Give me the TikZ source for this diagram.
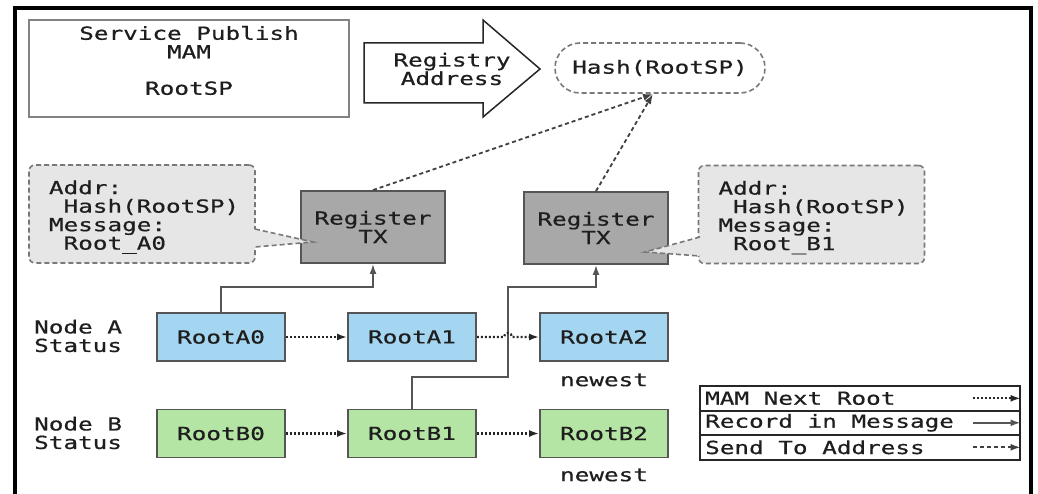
\documentclass[tikz,border=0pt]{standalone}
\usepackage{fontspec}
\setmainfont[FakeStretch=1.35, FakeBold=0.6]{DejaVu Sans Mono}
\usetikzlibrary{arrows.meta}
\definecolor{boxline}{RGB}{85,85,85}
\definecolor{spline}{RGB}{130,130,130}
\definecolor{txt}{RGB}{30,30,30}
\definecolor{rootblue}{RGB}{164,214,241}
\definecolor{rootgreen}{RGB}{180,229,164}
\definecolor{regfill}{RGB}{168,168,168}
\definecolor{notefill}{RGB}{230,230,230}
\definecolor{noteline}{RGB}{120,120,120}
\newcommand\dfont{\fontsize{18}{18.5}\selectfont}
\newcommand\ind{\phantom{A}}
\newcommand\toprule{\rule{0pt}{20pt}}
\tikzset{
  every node/.style={font=\dfont, text=txt, inner sep=0pt},
  rootbox/.style={draw=boxline, line width=1.8pt, minimum width=128pt, minimum height=48pt},
  abox/.style={rootbox, fill=rootblue},
  bbox/.style={rootbox, fill=rootgreen},
  regbox/.style={draw=boxline, line width=1.8pt, fill=regfill, minimum width=144pt,
    minimum height=72pt, align=center},
  notebox/.style={draw=noteline, fill=notefill, line width=1.6pt, dash pattern=on 5pt off 3pt,
    rounded corners=6pt, align=left, text width=186pt, minimum width=226pt, minimum height=98pt},
  noteedge/.style={draw=noteline, line width=1.6pt, dash pattern=on 5pt off 3pt},
  tipS/.style={-{Latex[length=10pt,width=7pt]}},
  nextroot/.style={tipS, draw=black!85, line width=2.2pt, dash pattern=on 2pt off 2pt},
  record/.style={tipS, draw=boxline, line width=1.8pt},
  sendto/.style={tipS, draw=black!75, line width=1.8pt, dash pattern=on 4pt off 3pt},
  legrow/.style={draw=black!85, line width=1.6pt, minimum width=320pt, minimum height=25pt}
}
\begin{document}
\begin{tikzpicture}[x=1pt, y=-1pt]
\useasboundingbox (0,0) rectangle (1038,494);
\fill[white] (0,0) rectangle (1038,494);

% outer frame
\draw[line width=4pt] (15,520) -- (15,8) -- (1031,8) -- (1031,520);

% service publish block and registry arrow
\node[draw=spline, line width=2pt, minimum width=320pt, minimum height=97pt] (sp) at (189,68.5) {};
\node[align=center] (spt) at (189,60.5) {Service Publish\\MAM\\[18pt]RootSP};
\draw[line width=1.5pt, draw=black!85] (364,43) -- (483,43) -- (483,20) -- (540,69)
  -- (483,117) -- (483,103) -- (364,103) -- cycle;
\node[align=center] (reg) at (452,69) {Registry\\Address};
\node[draw=noteline, line width=1.6pt, dash pattern=on 5pt off 3pt, rounded corners=25pt,
  minimum width=210pt, minimum height=50pt] (hash) at (660,68) {Hash(RootSP)};
\coordinate (hashin) at (653,94);

% register transactions
\node[regbox] (reg1) at (373,227) {Register\\TX};
\node[regbox] (reg2) at (596,228) {Register\\TX};

% notes with pointers
\node[notebox] (noteA) at (142,214) {\toprule Addr:\\\ind Hash(RootSP)\\Message:\\\ind Root\symbol{95}A0};
\fill[notefill] (253,229) -- (313,242) -- (253,247) -- cycle;
\draw[noteedge] (255,229) -- (313,242) -- (255,247);
\node[notebox] (noteB) at (811.5,214.5) {\toprule Addr:\\\ind Hash(RootSP)\\Message:\\\ind Root\symbol{95}B1};
\fill[notefill] (702,237) -- (645,252) -- (702,256) -- cycle;
\draw[noteedge] (700,237) -- (645,252) -- (700,256);

% status rows
\node[align=left, anchor=west] (na) at (34,336) {Node A\\Status};
\node[align=left, anchor=west] (nb) at (34,433) {Node B\\Status};
\node[abox] (a0) at (221,337) {RootA0};
\node[abox] (a1) at (412,337) {RootA1};
\node[abox] (a2) at (604,337) {RootA2};
\node[bbox] (b0) at (221,433.5) {RootB0};
\node[bbox] (b1) at (412,433.5) {RootB1};
\node[bbox] (b2) at (604,433.5) {RootB2};
\node (newA) at (604,380) {newest};
\node (newB) at (604,475) {newest};

% records in messages
\coordinate (jA) at (0,287);
\coordinate (jB) at (508,377);
\coordinate (kB) at (508,287);
\draw[record] (a0.north) -- (a0.north |- jA) -| (reg1.south);
\draw[record] (b1.north) |- (jB) -- (kB) -| (reg2.south);

% next-root chains
\draw[nextroot] (a0.east) -- (a1.west);
\draw[nextroot] (a1.east) -- (504,337) arc[start angle=180, end angle=360, radius=4] -- (a2.west);
\draw[nextroot] (b0.east) -- (b1.west);
\draw[nextroot] (b1.east) -- (b2.west);

% sends to the registry address
\draw[sendto] (reg1.north) -- (hashin);
\draw[sendto] (reg2.north) -- (hashin);

% legend
\node[legrow, anchor=north west] (l1) at (699,385) {};
\node[legrow, anchor=north west] (l2) at (699,409.5) {};
\node[legrow, anchor=north west] (l3) at (699,434) {};
\node[anchor=west] at ([xshift=6pt]l1.west) {MAM Next Root};
\node[anchor=west] at ([xshift=6pt]l2.west) {Record in Message};
\node[anchor=west] at ([xshift=6pt]l3.west) {Send To Address};
\draw[nextroot] ([xshift=-48pt]l1.east) -- (l1.east);
\draw[record] ([xshift=-48pt]l2.east) -- (l2.east);
\draw[sendto] ([xshift=-48pt]l3.east) -- (l3.east);
\end{tikzpicture}
\end{document}
